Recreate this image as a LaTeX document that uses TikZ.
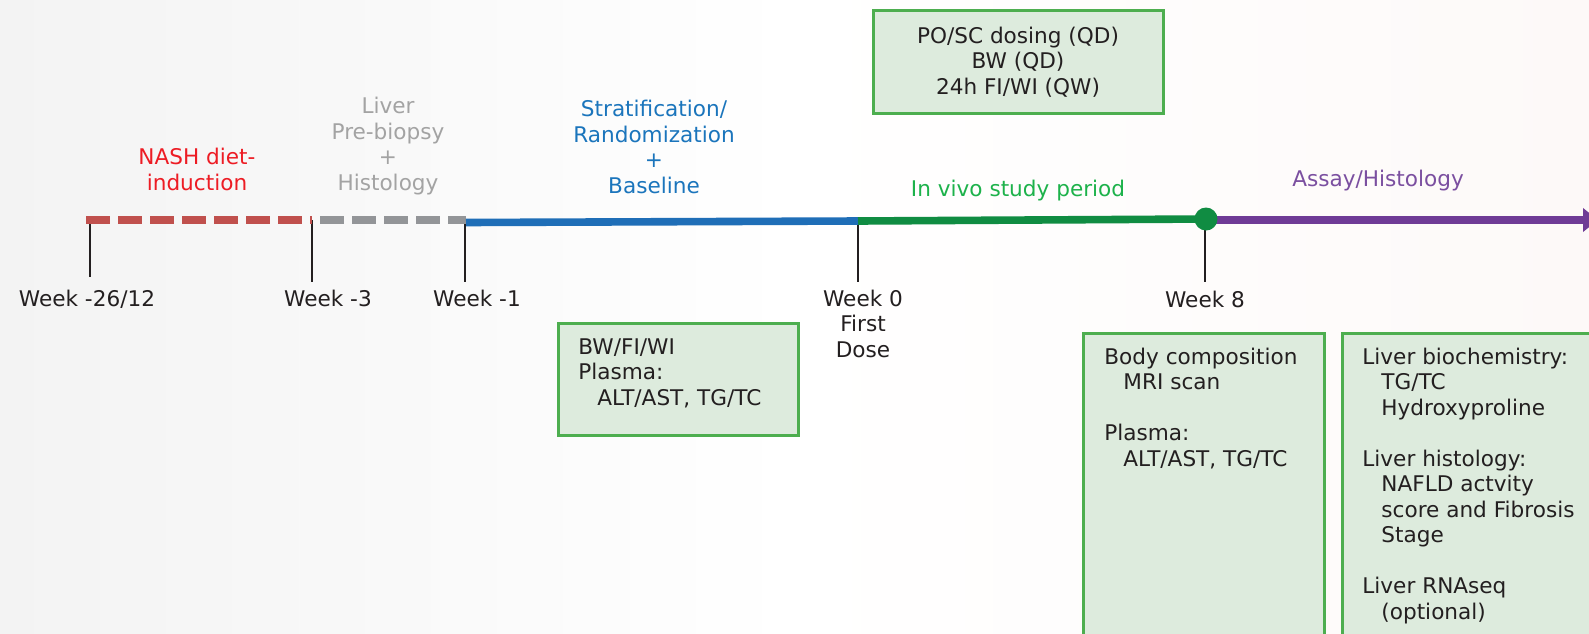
\documentclass[tikz,border=0pt]{standalone}
\usepackage{fontspec}
\setmainfont{DejaVu Sans}
\usetikzlibrary{arrows.meta,calc}
\definecolor{lred}{HTML}{C0504D}
\definecolor{lgray}{HTML}{939598}
\definecolor{lblue}{HTML}{1F6EB7}
\definecolor{lgreen}{HTML}{108C42}
\definecolor{lpurple}{HTML}{6F3B96}
\definecolor{tred}{HTML}{ED1C24}
\definecolor{tgray}{HTML}{A3A3A3}
\definecolor{tblue}{HTML}{1B75BC}
\definecolor{tgreen}{HTML}{1DB24B}
\definecolor{tpurple}{HTML}{7B4FA0}
\definecolor{tdark}{HTML}{231F20}
\definecolor{boxfill}{HTML}{DDEBDD}
\definecolor{boxline}{HTML}{4DAE4F}
\tikzset{
  lbl/.style={font=\fontsize{10.8}{12.75}\selectfont, inner sep=0pt, align=center, anchor=base, text=tdark},
  lbll/.style={font=\fontsize{10.8}{12.75}\selectfont, inner sep=0pt, align=left, anchor=base west, text=tdark},
  greenbox/.style={draw=boxline, fill=boxfill, line width=1.5pt},
  tick/.style={draw=tdark, line width=1pt},
  seg/.style={line width=3.8pt},
  dashseg/.style={line width=3.6pt, dash pattern=on 12pt off 4pt},
}
\newcommand{\ind}{\hspace*{9.5pt}}
\begin{document}
\begin{tikzpicture}[x=0.5pt,y=-0.5pt]
\useasboundingbox (0,0) rectangle (1589,633);
\clip (0,0) rectangle (1589,633);
\shade[left color={rgb,255:red,243;green,243;blue,243}, right color={rgb,255:red,253;green,249;blue,248}, middle color=white] (0,0) rectangle (1589,633);

% timeline points
\coordinate (p0) at (86,220);
\coordinate (p1) at (312,220);
\coordinate (p1b) at (320,220);
\coordinate (p2a) at (466,220);
\coordinate (p2) at (466,222.5);
\coordinate (p3) at (858,221);
\coordinate (p4) at (1206,219);
\coordinate (p4b) at (1206,220);
\coordinate (pend) at (1598,220);

% ticks
\coordinate (k0) at (90,220);
\coordinate (k1) at (312,220);
\coordinate (k2) at (465,222);
\coordinate (k3) at (858,221);
\coordinate (k4) at (1205,219);
\draw[tick] (k0) -- ++(0,57);
\draw[tick] (k1) -- ++(0,62);
\draw[tick] (k2) -- ++(0,60);
\draw[tick] (k3) -- ++(0,61);
\draw[tick] (k4) -- ++(0,63);

% segments
\draw[dashseg, draw=lred] (p0) -- (p1);
\draw[dashseg, draw=lgray] (p1b) -- (p2a);
\draw[seg, draw=lblue] (p2) -- (p3);
\draw[seg, draw=lgreen] (p3) -- (p4);
\draw[seg, line width=4pt, draw=lpurple, -{Triangle[length=7.5pt,width=11.5pt]}] (p4b) -- (pend);
\node[circle, fill=lgreen, minimum size=11.5pt, inner sep=0pt] (dot) at (p4) {};

% phase labels (anchor = baseline of last line)
\node[lbl, text=tred] (nash) at (197,190) {NASH diet-\\induction};
\node[lbl, text=tgray] (liver) at (388,190) {Liver\\Pre-biopsy\\+\\Histology};
\node[lbl, text=tblue] (strat) at (654,193) {Stratification/\\Randomization\\+\\Baseline};
\node[lbl, text=tgreen] (vivo) at (1018,196) {In vivo study period};
\node[lbl, text=tpurple] (assay) at (1378,186) {Assay/Histology};

% week labels
\node[lbl] (w26) at (87,306) {Week -26/12};
\node[lbl] (w3) at (328,306) {Week -3};
\node[lbl] (w1) at (477,306) {Week -1};
\node[lbl] (w0) at (863,357) {Week 0\\First\\Dose};
\node[lbl] (w8) at (1205,307) {Week 8};

% boxes
\draw[greenbox] (873,10) rectangle (1163,113);
\node[lbl] (dosing) at (1018,94) {PO/SC dosing (QD)\\BW (QD)\\24h FI/WI (QW)};

\draw[greenbox] (558,323) rectangle (798,435);
\node[lbll] (base) at (578,405) {BW/FI/WI\\Plasma:\\\ind ALT/AST, TG/TC};

\draw[greenbox] (1083,333) rectangle (1324,660);
\node[lbll] (body) at (1104,466) {Body composition\\\ind MRI scan\\ \\Plasma:\\\ind ALT/AST, TG/TC};

\draw[greenbox] (1342,333) rectangle (1620,660);
\node[lbll] (liv) at (1362,619) {Liver biochemistry:\\\ind TG/TC\\\ind Hydroxyproline\\ \\Liver histology:\\\ind NAFLD actvity\\\ind score and Fibrosis\\\ind Stage\\ \\Liver RNAseq\\\ind (optional)};
\end{tikzpicture}
\end{document}
